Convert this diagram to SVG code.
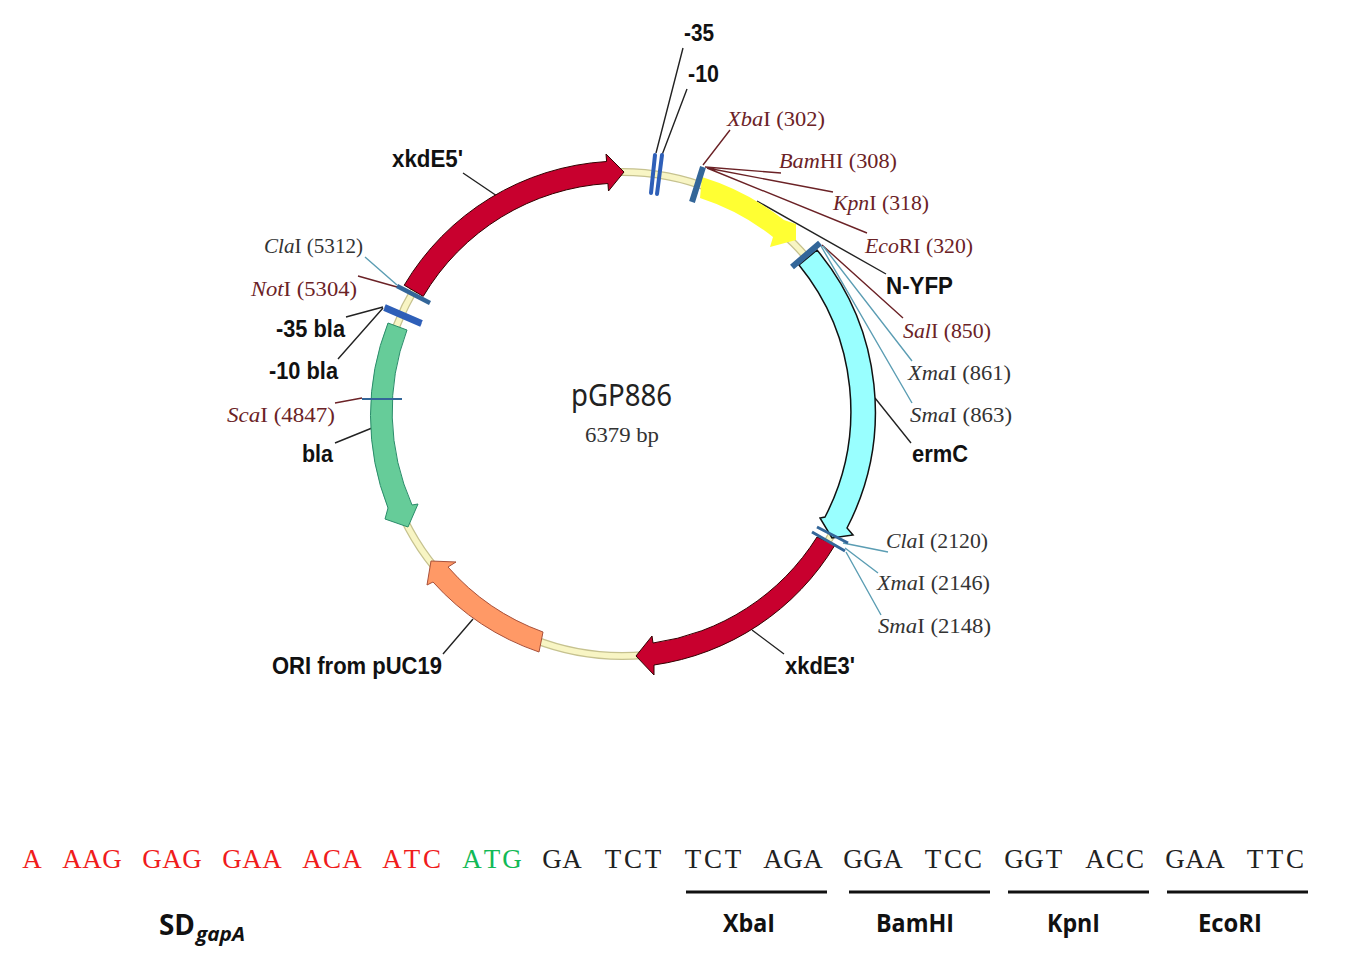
<svg xmlns="http://www.w3.org/2000/svg" width="1355" height="953" viewBox="0 0 1355 953">
<style>
text{font-family:"Liberation Sans",Arial,sans-serif}
.b{font-size:23px;font-weight:700;fill:#111}
.s{font-family:"Liberation Serif","Times New Roman",serif;font-size:21px}
.m{fill:#6b2226}.d{fill:#333}
.q{font-family:"Liberation Serif","Times New Roman",serif;font-size:27px;text-anchor:middle}
.r{fill:#f01c1c}.g{fill:#12b956}.k{fill:#222}
.c{font-family:"Open Sans","Noto Sans",sans-serif;font-size:25px;font-weight:700;fill:#111}
.l{fill:none;stroke-width:1.4}
.lk{stroke:#222}.lm{stroke:#6b2226}.lt{stroke:#5b9db3}
.bar{stroke:#111;stroke-width:3}
.st{stroke:#336699;fill:none}.bl{stroke:#2e5fb8;fill:none}
</style>
<rect width="1355" height="953" fill="#fff"/>
<g id="backbone"><circle cx="622" cy="414" r="242" fill="none" stroke="#c6c28f" stroke-width="8"/><circle cx="622" cy="414" r="242" fill="none" stroke="#f8f5c4" stroke-width="5.5"/></g>
<g id="connectors">
<path class="l lk" d="M683 48L656 153M687 89L662 155M757 201L886 274M875 398L911 443M752 630L784 654M473 619L443 654M463 173L497 196M346 317L383 307M338 359L383 308M335 443L372 428"/>
<path class="l lm" d="M730 130L703 165M781 173L705 167M833 192L707 168M867 233L707 168M822 245L903 318M358 276L397 287M335 403L362 398"/>
<path class="l lt" d="M823 246L912 361M821 246L912 403M843 543L888 552M845 548L878 573M846 552L881 615M365 257L397 285"/>
</g>
<g id="xkdE5-arrow"><path fill="#c8002e" stroke="#300" d="M404.2 285.2A253 253 0 0 1 606.6 161.5L606 154L624 172L608.5 191L607.9 183.5A231 231 0 0 0 423.2 296.4Z"/></g>
<g id="nYFP-arrow"><path fill="#ffff33" d="M702 177A253 253 0 0 1 784 220L796 224L796 240L770 247L773 237A231 231 0 0 0 700 198Z"/></g>
<g id="ermC-arrow"><path fill="#99ffff" stroke="#111" stroke-width="1.5" d="M799 265A231 231 0 0 1 825 517L820 518L832 538L853 535L847 528A253 253 0 0 0 817 250Z"/></g>
<g id="xkdE3-arrow"><path fill="#c8002e" stroke="#300" d="M817 537A231 231 0 0 1 653 643L652 636L636 656L654 675L654 665A253 253 0 0 0 835 545Z"/></g>
<g id="ori-arrow"><path fill="#ff9966" stroke="#a8503a" d="M543 632A231 231 0 0 1 448 567L456 562L431 561L427 585L433 582A253 253 0 0 0 539 652Z"/></g>
<g id="bla-arrow"><path fill="#66cc99" stroke="#2a8c6a" d="M388 323A253 253 0 0 0 388 508L385 519L408 527L418 504L412 505A231 231 0 0 1 407 330Z"/></g>
<g id="ticks">
<path class="bl" stroke-width="4" stroke-linecap="round" d="M655 155L651 193M662 155L657 194"/>
<path class="bl" stroke-width="4" d="M385 306L422 322M384 309L421 325"/>
<path class="st" stroke-width="6" d="M703 167L692 202M820 243L792 267"/>
<path class="st" stroke-width="4.5" d="M397 286L430 303"/>
<path class="st" stroke-width="2" d="M362 399L402 399"/>
<path class="st" stroke-width="3" d="M817 527L848 543M812 532L845 551"/>
</g>
<g id="labels">
<text class="b" x="684" y="41" textLength="30" lengthAdjust="spacingAndGlyphs">-35</text>
<text class="b" x="688" y="82" textLength="31" lengthAdjust="spacingAndGlyphs">-10</text>
<text class="b" x="392" y="167" textLength="71" lengthAdjust="spacingAndGlyphs">xkdE5'</text>
<text class="b" x="886" y="294" textLength="67" lengthAdjust="spacingAndGlyphs">N-YFP</text>
<text class="b" x="912" y="462" textLength="56" lengthAdjust="spacingAndGlyphs">ermC</text>
<text class="b" x="785" y="674" textLength="70" lengthAdjust="spacingAndGlyphs">xkdE3'</text>
<text class="b" x="272" y="674" textLength="170" lengthAdjust="spacingAndGlyphs">ORI from pUC19</text>
<text class="b" x="302" y="462" textLength="31" lengthAdjust="spacingAndGlyphs">bla</text>
<text class="b" x="276" y="337" textLength="69" lengthAdjust="spacingAndGlyphs">-35 bla</text>
<text class="b" x="269" y="379" textLength="69" lengthAdjust="spacingAndGlyphs">-10 bla</text>
<text class="s m" x="727" y="126" textLength="98" lengthAdjust="spacingAndGlyphs"><tspan font-style="italic">Xba</tspan>I (302)</text>
<text class="s m" x="779" y="168" textLength="118" lengthAdjust="spacingAndGlyphs"><tspan font-style="italic">Bam</tspan>HI (308)</text>
<text class="s m" x="833" y="210" textLength="96" lengthAdjust="spacingAndGlyphs"><tspan font-style="italic">Kpn</tspan>I (318)</text>
<text class="s m" x="865" y="253" textLength="108" lengthAdjust="spacingAndGlyphs"><tspan font-style="italic">Eco</tspan>RI (320)</text>
<text class="s m" x="903" y="338" textLength="88" lengthAdjust="spacingAndGlyphs"><tspan font-style="italic">Sal</tspan>I (850)</text>
<text class="s d" x="908" y="380" textLength="103" lengthAdjust="spacingAndGlyphs"><tspan font-style="italic">Xma</tspan>I (861)</text>
<text class="s d" x="910" y="422" textLength="102" lengthAdjust="spacingAndGlyphs"><tspan font-style="italic">Sma</tspan>I (863)</text>
<text class="s d" x="886" y="548" textLength="102" lengthAdjust="spacingAndGlyphs"><tspan font-style="italic">Cla</tspan>I (2120)</text>
<text class="s d" x="877" y="590" textLength="113" lengthAdjust="spacingAndGlyphs"><tspan font-style="italic">Xma</tspan>I (2146)</text>
<text class="s d" x="878" y="633" textLength="113" lengthAdjust="spacingAndGlyphs"><tspan font-style="italic">Sma</tspan>I (2148)</text>
<text class="s d" x="264" y="253" textLength="99" lengthAdjust="spacingAndGlyphs"><tspan font-style="italic">Cla</tspan>I (5312)</text>
<text class="s m" x="251" y="296" textLength="106" lengthAdjust="spacingAndGlyphs"><tspan font-style="italic">Not</tspan>I (5304)</text>
<text class="s m" x="227" y="422" textLength="108" lengthAdjust="spacingAndGlyphs"><tspan font-style="italic">Sca</tspan>I (4847)</text>
<text x="571" y="406" font-size="30" fill="#222" textLength="101" lengthAdjust="spacingAndGlyphs" style="font-family:'Noto Sans',sans-serif">pGP886</text>
<text class="s" x="585" y="442" fill="#333" textLength="74" lengthAdjust="spacingAndGlyphs">6379 bp</text>
</g>
<g id="sequence">
<text class="q r" x="32" y="868">A</text><text class="q r" x="72 92 112" y="868">AAG</text><text class="q r" x="152 172 192" y="868">GAG</text><text class="q r" x="232 252 272" y="868">GAA</text><text class="q r" x="312 332 352" y="868">ACA</text><text class="q r" x="392 412 432" y="868">ATC</text>
<text class="q g" x="472 492 512" y="868">ATG</text>
<text class="q k" x="552 572" y="868">GA</text><text class="q k" x="613 633 653" y="868">TCT</text><text class="q k" x="693 713 733" y="868">TCT</text><text class="q k" x="773 793 813" y="868">AGA</text><text class="q k" x="853 873 893" y="868">GGA</text><text class="q k" x="933 953 973" y="868">TCC</text><text class="q k" x="1014 1034 1054" y="868">GGT</text><text class="q k" x="1095 1115 1135" y="868">ACC</text><text class="q k" x="1175 1195 1215" y="868">GAA</text><text class="q k" x="1255 1275 1295" y="868">TTC</text>
</g>
<g id="sites">
<path class="bar" d="M686 892H827M849 892H990M1008 892H1149M1167 892H1308"/>
<text class="c" x="723" y="932" textLength="52" lengthAdjust="spacingAndGlyphs">XbaI</text>
<text class="c" x="876" y="932" textLength="78" lengthAdjust="spacingAndGlyphs">BamHI</text>
<text class="c" x="1047" y="932" textLength="53" lengthAdjust="spacingAndGlyphs">KpnI</text>
<text class="c" x="1198" y="932" textLength="64" lengthAdjust="spacingAndGlyphs">EcoRI</text>
<text class="c" x="159" y="935" textLength="36" lengthAdjust="spacingAndGlyphs" style="font-size:29px">SD</text>
<text class="c" x="196" y="941" font-style="italic" textLength="49" lengthAdjust="spacingAndGlyphs" style="font-size:19px">gapA</text>
</g>
</svg>
